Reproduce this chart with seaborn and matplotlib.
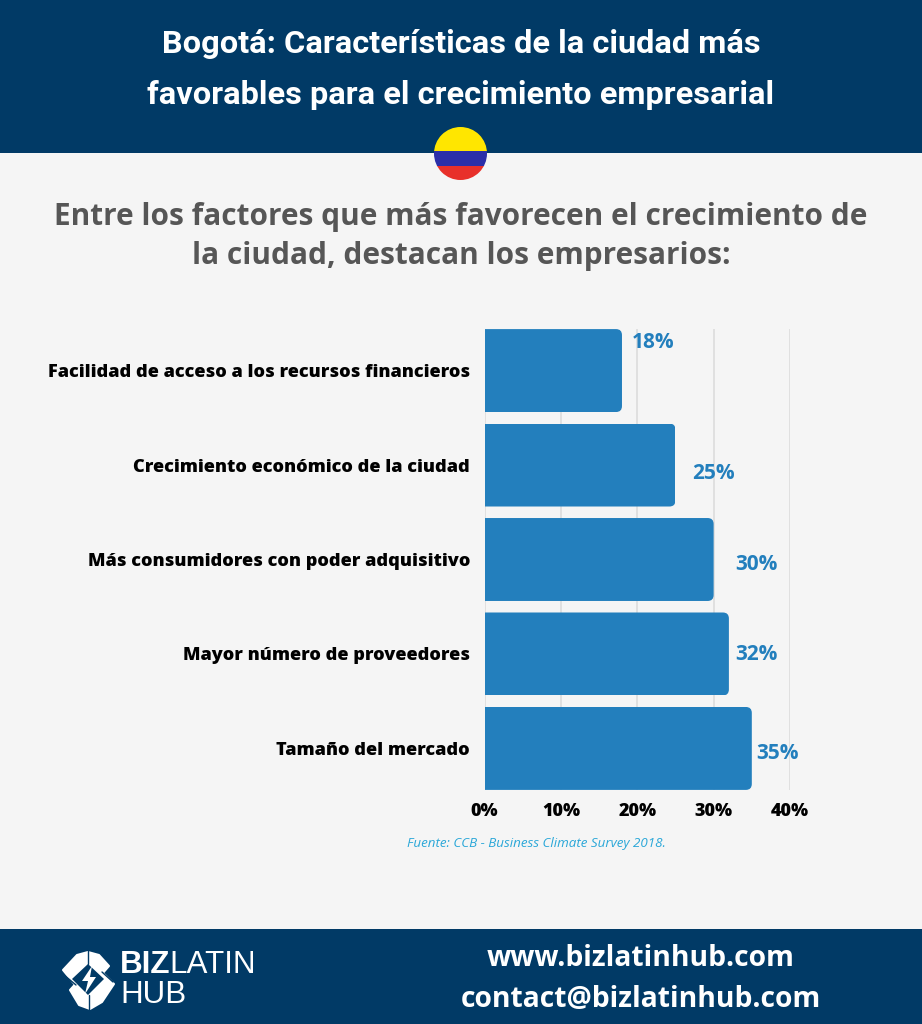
import matplotlib
matplotlib.use('Agg')
import matplotlib.pyplot as plt
from matplotlib.patches import Circle, FancyBboxPatch, Polygon, Rectangle
import pandas as pd
import seaborn as sns

factores = ['Facilidad de acceso a los recursos financieros',
            'Crecimiento económico de la ciudad',
            'Más consumidores con poder adquisitivo',
            'Mayor número de proveedores',
            'Tamaño del mercado']
valores = [18, 25, 30, 32, 35]
ticks = [0, 10, 20, 30, 40]

titulo = 'Bogotá: Características de la ciudad más\nfavorables para el crecimiento empresarial'
subtitulo = 'Entre los factores que más favorecen el crecimiento de\nla ciudad, destacan los empresarios:'
fuente = 'Fuente: CCB - Business Climate Survey 2018.'

AZUL = '#013A66'
FONDO = '#F5F5F5'
BARRA = '#237FBD'

sns.set_theme(style='white')
plt.rcParams['font.family'] = ['Open Sans', 'DejaVu Sans']

fig = plt.figure(figsize=(9.22, 10.24), dpi=100, facecolor=FONDO)

# capa de fondo en pixeles
bg = fig.add_axes([0, 0, 1, 1])
bg.set_xlim(0, 922)
bg.set_ylim(1024, 0)
bg.axis('off')
bg.add_patch(Rectangle((0, 0), 922, 153, color=AZUL, lw=0))
bg.add_patch(Rectangle((0, 929), 922, 95, color=AZUL, lw=0))

# bandera
borde = Circle((460.5, 153.5), 26.5, transform=bg.transData)
for y0, alto, color in [(127, 24, '#FFE600'), (151, 15, '#2B2FA8'), (166, 15, '#E8302A')]:
    franja = Rectangle((433, y0), 55, alto, color=color, lw=0)
    bg.add_patch(franja)
    franja.set_clip_path(borde)

bg.text(461, 69.5, titulo, ha='center', va='center', color='white', fontsize=23.4,
        fontweight='bold', family=['Roboto', 'DejaVu Sans'], linespacing=1.9)
bg.text(461, 236.5, subtitulo, ha='center', va='center', color='#565656', fontsize=21.45,
        fontweight='bold', linespacing=1.4)
bg.text(536, 843, fuente, ha='center', va='center', color='#2AA7D8', fontsize=9.65, style='italic')

# logo
bg.add_patch(Polygon([(63, 970), (77, 955), (88, 952), (99, 955), (109, 966), (88, 990), (76, 986)],
                     closed=True, fc='white', ec='white', lw=1.5, joinstyle='round'))
bg.add_patch(Polygon([(114, 984), (102, 1002), (90, 1009), (79, 1005), (70, 990), (90, 968), (102, 972)],
                     closed=True, fc='white', ec='white', lw=1.5, joinstyle='round'))
bg.add_patch(Polygon([(88, 964), (104, 979), (88, 995), (72, 979)], closed=True, fc=AZUL, lw=0))
bg.add_patch(Polygon([(92, 966), (82, 981), (88, 981), (85, 994), (96, 977), (90, 977)],
                     closed=True, fc='white', lw=0))
for x0, y0, x1, y1 in [(88, 950, 88, 964), (89, 995, 89, 1010), (64, 975, 76, 985), (102, 972, 113, 982)]:
    bg.plot([x0, x1], [y0, y1], color=AZUL, lw=1)
bg.text(120, 965, 'BIZ', ha='left', va='center', color='white', fontsize=22.6, fontweight='bold',
        family=['Liberation Sans', 'DejaVu Sans'])
bg.text(169, 965, 'LATIN', ha='left', va='center', color='white', fontsize=22.6,
        family=['Liberation Sans', 'DejaVu Sans'])
bg.text(120, 995, 'HUB', ha='left', va='center', color='white', fontsize=22.6,
        family=['Liberation Sans', 'DejaVu Sans'])

bg.text(641, 958, 'www.bizlatinhub.com', ha='center', va='center', color='white',
        fontsize=20.3, fontweight='bold')
bg.text(641, 999.5, 'contact@bizlatinhub.com', ha='center', va='center', color='white',
        fontsize=20.3, fontweight='bold')

# grafico de barras
ax = fig.add_axes([484.5 / 922, 1 - 790 / 1024, (790 - 484.5) / 922, (790 - 329) / 1024])
ax.patch.set_alpha(0)
df = pd.DataFrame({'factor': factores, 'valor': valores})
sns.barplot(data=df, x='valor', y='factor', color=BARRA, saturation=1, width=0.878,
            linewidth=0, ax=ax, zorder=3)
ax.set_xlim(0, 40)
ax.set_ylim(4.44, -0.44)
ax.set_xticks(ticks)
ax.set_xticklabels([f'{t}%' for t in ticks], fontsize=13, fontweight=800, color='black')
ax.set_yticks(range(len(factores)))
ax.set_yticklabels(factores, fontsize=13.1, fontweight=800, color='black')
ax.set_xlabel('')
ax.set_ylabel('')
ax.tick_params(axis='x', length=0, pad=9)
ax.tick_params(axis='y', length=0, pad=10.5)
ax.xaxis.grid(True, color='#DCDCDC', lw=1.2, zorder=0)
ax.yaxis.grid(False)
ax.set_axisbelow(True)
sns.despine(ax=ax, left=True, bottom=True)

# esquinas redondeadas a la derecha
por_x = 40 / (790 - 484.5)
por_y = 4.88 / (790 - 329)
for bar in ax.patches:
    x1 = bar.get_width()
    y0 = bar.get_y()
    h = bar.get_height()
    r = 6 * por_x
    mascara = FancyBboxPatch((-2, y0), x1 + 2, h, boxstyle=f'round,pad=0,rounding_size={r}',
                             mutation_aspect=por_y / por_x, transform=ax.transData)
    bar.set_clip_path(mascara)

# etiquetas, desplazadas como en la imagen (pixeles desde el extremo de la barra)
desp_x = [10, 17, 21.5, 6, 4]
desp_y = [28, -8.5, -5, -1, -5]
for i, v in enumerate(valores):
    ax.annotate(f'{v}%', (v, i), xytext=(desp_x[i] * 0.72, desp_y[i] * 0.72),
                textcoords='offset points', ha='left', va='center', color=BARRA,
                fontsize=15, fontweight='bold', annotation_clip=False)

fig.savefig('out.png', dpi=100, facecolor=FONDO)
